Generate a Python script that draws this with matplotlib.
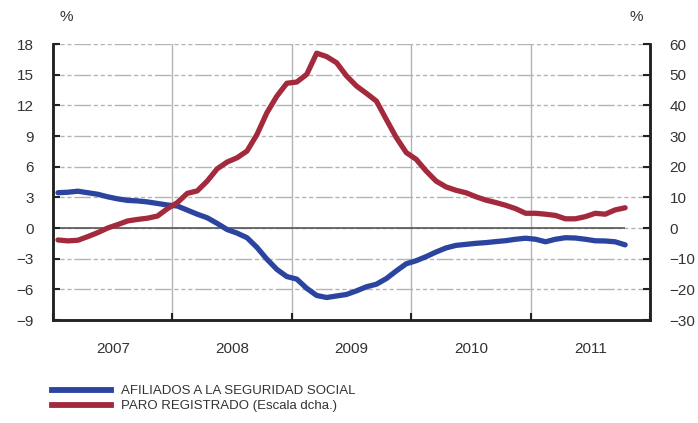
import matplotlib.pyplot as plt
import numpy as np
from matplotlib.lines import Line2D

# monthly data, Jan 2007 - Oct 2011
years = [2007, 2008, 2009, 2010, 2011]

afiliados = [
    3.45, 3.5, 3.6, 3.45, 3.3, 3.05, 2.85, 2.7, 2.65, 2.55, 2.4, 2.25,
    2.15, 1.75, 1.35, 1.0, 0.45, -0.15, -0.5, -0.95, -1.9, -3.05, -4.05, -4.75,
    -5.0, -5.9, -6.6, -6.8, -6.65, -6.5, -6.15, -5.75, -5.5, -4.95, -4.2, -3.5,
    -3.2, -2.8, -2.35, -1.95, -1.7, -1.6, -1.5, -1.43, -1.33, -1.24, -1.1, -1.0,
    -1.1, -1.35, -1.1, -0.95, -0.98, -1.1, -1.25, -1.27, -1.35, -1.65,
]

paro = [
    -3.9, -4.2, -4.0, -2.8, -1.5, 0.0, 1.1, 2.3, 2.8, 3.2, 3.9, 6.3,
    8.3, 11.3, 12.1, 15.3, 19.3, 21.5, 22.9, 25.1, 30.5, 37.6, 43.0, 47.2,
    47.6, 50.1, 57.0, 55.9, 53.9, 49.6, 46.3, 43.9, 41.4, 35.4, 29.5, 24.6,
    22.4, 18.6, 15.3, 13.4, 12.3, 11.5, 10.2, 9.1, 8.3, 7.4, 6.3, 4.8,
    4.8, 4.5, 4.1, 3.0, 3.0, 3.7, 4.8, 4.5, 5.9, 6.6,
]

left_ticks = [-9, -6, -3, 0, 3, 6, 9, 12, 15, 18]
right_ticks = [-30, -20, -10, 0, 10, 20, 30, 40, 50, 60]

labels = ['AFILIADOS A LA SEGURIDAD SOCIAL', 'PARO REGISTRADO (Escala dcha.)']

blue = '#2b44a0'
red = '#a32a3c'
txt = '#333333'
grid_col = '#b4b4b4'

plt.rcParams['font.family'] = ['Liberation Sans', 'DejaVu Sans']

x = 2007 + (np.arange(len(afiliados)) + 0.5) / 12

fig = plt.figure(figsize=(6.98, 4.23), dpi=100)
ax = fig.add_axes([53 / 698, 1 - 320 / 423, (650 - 53) / 698, (320 - 44) / 423])
ax2 = ax.twinx()

# grid
dash = (0, (3, 2, 3, 2, 3, 2, 12, 2))
for t in left_ticks[1:]:
    if t == 0:
        continue
    ax.axhline(t, color=grid_col, lw=1, ls=dash, zorder=0)
ax.axhline(0, color=grid_col, lw=1, ls=dash, zorder=0)
ax.hlines(0, 2007, x[-1], color='#555555', lw=1.2, zorder=1)
for y in years[1:]:
    ax.axvline(y, color=grid_col, lw=1, zorder=0)

ax.plot(x, afiliados, color=blue, lw=3.8, solid_capstyle='round', zorder=3)
ax2.plot(x, paro, color=red, lw=3.8, solid_capstyle='round', zorder=3)

ax.set_xlim(2007, 2012)
ax.set_ylim(-9, 18)
ax2.set_ylim(-30, 60)
ax.set_yticks(left_ticks)
ax2.set_yticks(right_ticks)
ax.set_xticks(years + [2012])
ax.set_xticklabels([])
ax.set_xticks([y + 0.5 for y in years], minor=True)
ax.set_xticklabels([str(y) for y in years], minor=True)

ax.tick_params(axis='y', direction='in', length=5, width=1.5, pad=14,
               labelsize=11, labelcolor=txt, color='#222222')
ax2.tick_params(axis='y', direction='in', length=5, width=1.5, pad=14,
                labelsize=11, labelcolor=txt, color='#222222')
ax.tick_params(axis='x', which='major', direction='in', length=5, width=1.5, color='#222222')
ax.tick_params(axis='x', which='minor', length=0, pad=16, labelsize=11, labelcolor=txt)

for a in (ax, ax2):
    a.spines['top'].set_visible(False)
    for s in ('left', 'right', 'bottom'):
        a.spines[s].set_linewidth(1.8)
        a.spines[s].set_color('#222222')

fig.text(60 / 698, 1 - 17 / 423, '%', fontsize=11, color=txt, ha='left', va='center')
fig.text(643 / 698, 1 - 17 / 423, '%', fontsize=11, color=txt, ha='right', va='center')

handles = [Line2D([], [], color=blue, lw=4.2), Line2D([], [], color=red, lw=4.2)]
fig.legend(handles, labels, loc='upper left', bbox_to_anchor=(0.067, 0.102),
           frameon=False, handlelength=4.5, handletextpad=0.75, labelspacing=0.2,
           prop={'size': 9.5}, labelcolor=txt, borderaxespad=0)

fig.savefig('out.png', dpi=100)
